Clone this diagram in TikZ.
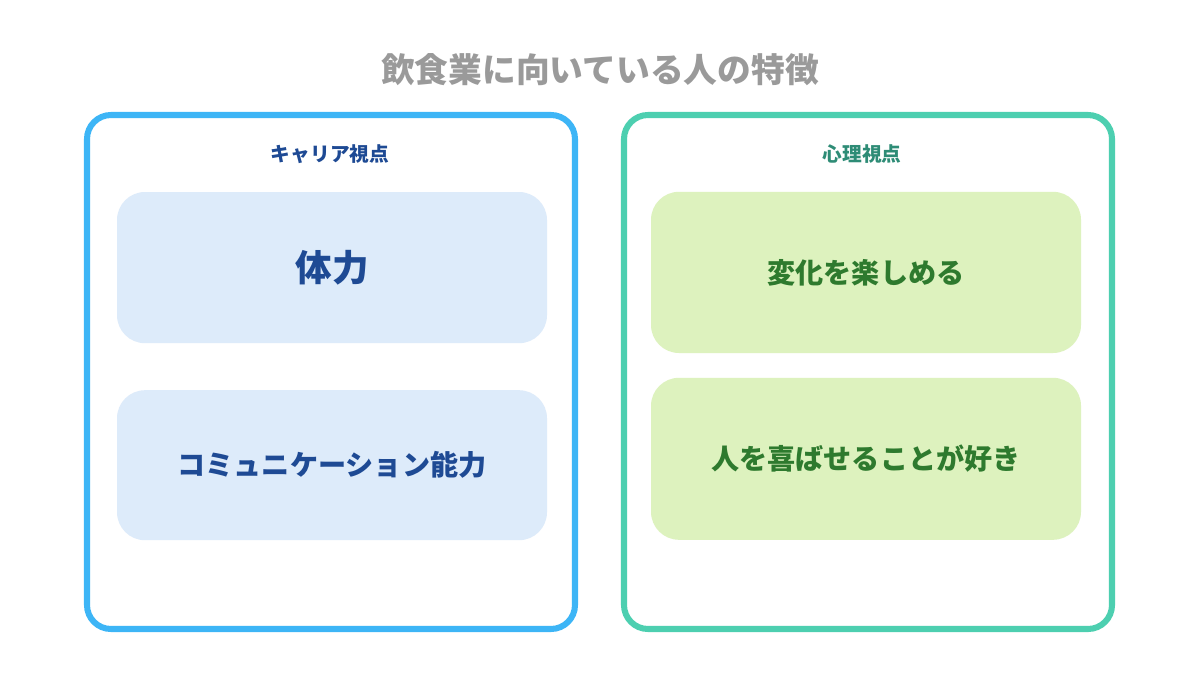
\documentclass[tikz,border=0pt]{standalone}
\usepackage{fontspec}
\setmainfont{Noto Sans CJK JP}
\usepackage{xcolor}
\definecolor{titlegray}{HTML}{9A9A9A}
\definecolor{frameblue}{HTML}{3DB5F6}
\definecolor{frameteal}{HTML}{4DCFB0}
\definecolor{textblue}{HTML}{1E4A94}
\definecolor{textteal}{HTML}{2E8C76}
\definecolor{textgreen}{HTML}{2E7A2E}
\definecolor{fillblue}{HTML}{DDEBFA}
\definecolor{fillgreen}{HTML}{DDF2BE}
\tikzset{
  frame/.style={draw, line width=4.3pt, rounded corners=0.6cm, fill=white,
    minimum width=12.2cm, minimum height=12.85cm},
  card/.style={rounded corners=0.7cm, minimum width=10.75cm, inner sep=0pt},
  head/.style={font=\fontsize{14}{16}\selectfont\bfseries},
  item/.style={font=\fontsize{20}{24}\selectfont\bfseries}
}
\begin{document}
\begin{tikzpicture}
    \useasboundingbox (0,0) rectangle (30,-16.8);

    \node[font=\fontsize{24}{28}\selectfont\bfseries, text=titlegray] (title) at (15,-1.75) {飲食業に向いている人の特徴};

    \node[frame, draw=frameblue] (left) at (8.275,-9.3) {};
    \node[frame, draw=frameteal] (right) at (21.7,-9.3) {};

    \node[head, text=textblue] (lhead) at (8.25,-3.85) {キャリア視点};
    \node[head, text=textteal] (rhead) at (21.55,-3.85) {心理視点};

    \node[card, fill=fillblue, minimum height=3.78cm, text=textblue,
      font=\fontsize{26}{30}\selectfont\bfseries] (stamina) at (8.3,-6.69) {体力};
    \node[card, fill=fillblue, minimum height=3.75cm, text=textblue, item] (comm) at (8.3,-11.63) {コミュニケーション能力};

    \node[card, fill=fillgreen, minimum height=4.03cm, text=textgreen, item] (change) at (21.65,-6.81) {変化を楽しめる};
    \node[card, fill=fillgreen, minimum height=4.05cm, text=textgreen, item] (please) at (21.65,-11.47) {人を喜ばせることが好き};
\end{tikzpicture}
\end{document}
